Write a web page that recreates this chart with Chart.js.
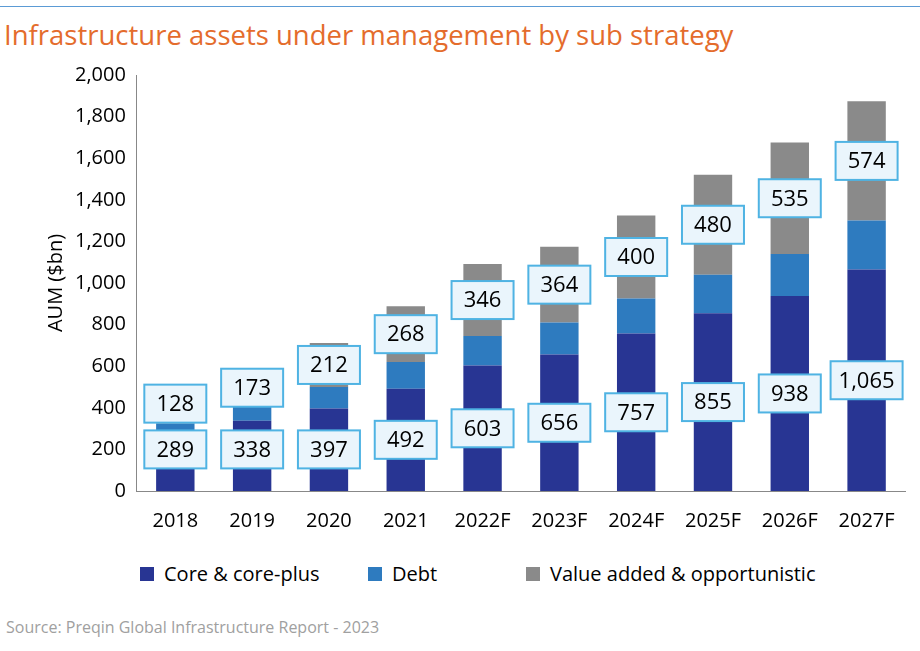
<!DOCTYPE html>
<html>
<head>
<meta charset="utf-8">
<script src="https://cdn.jsdelivr.net/npm/chart.js@4"></script>
<style>
  body { margin: 0; background: #fff; font-family: "Open Sans", sans-serif; }
  #wrap { position: relative; width: 920px; height: 651px; }
  #topline { position: absolute; left: 0; top: 6px; width: 920px; height: 1px; background: #5b9bd5; }
  #title { position: absolute; left: 4px; top: 16px; font-size: 27.5px; color: #e46c2c; }
  #source { position: absolute; left: 6px; top: 616px; font-size: 16px; color: #a0a0a0; }
  #box { position: absolute; left: 0; top: 60px; width: 915px; height: 483px; }
  #legend { position: absolute; top: 560px; left: 0; width: 920px; font-size: 20px; color: #000; }
  .item { position: absolute; top: 0; white-space: nowrap; }
  .sw { display: inline-block; width: 14px; height: 14px; margin-right: 10px; }
</style>
</head>
<body>
<div id="wrap">
  <div id="topline"></div>
  <div id="title">Infrastructure assets under management by sub strategy</div>
  <div id="box"><canvas id="chart"></canvas></div>
  <div id="legend"></div>
  <div id="source">Source: Preqin Global Infrastructure Report - 2023</div>
</div>
<script>
var years = ['2018', '2019', '2020', '2021', '2022F', '2023F', '2024F', '2025F', '2026F', '2027F'];
var coreValues = [289, 338, 397, 492, 603, 656, 757, 855, 938, 1065];
var debtValues = [36, 72, 103, 128, 142, 154, 168, 185, 202, 235];
var valueAddedValues = [128, 173, 212, 268, 346, 364, 400, 480, 535, 574];
var seriesNames = ['Core & core-plus', 'Debt', 'Value added & opportunistic'];
var seriesColors = ['#283593', '#2e7bbf', '#8a8a8a'];
var legendX = [140, 368, 526];

// html legend
var lg = document.getElementById('legend');
seriesNames.forEach(function (n, i) {
  var d = document.createElement('div');
  d.className = 'item';
  d.style.left = legendX[i] + 'px';
  d.innerHTML = '<span class="sw" style="background:' + seriesColors[i] + '"></span>' + n;
  lg.appendChild(d);
});

// draws the boxed labels for core and value-added segments
var boxLabels = {
  id: 'boxLabels',
  afterDatasetsDraw(chart) {
    const ctx = chart.ctx;
    const y = chart.scales.y;
    ctx.save();
    ctx.font = '22px "Open Sans", sans-serif';
    ctx.textAlign = 'center';
    ctx.textBaseline = 'middle';
    chart.getDatasetMeta(0).data.forEach(function (bar, i) {
      const coreY = Math.max(coreValues[i] / 2, 200);
      const vaMid = coreValues[i] + debtValues[i] + valueAddedValues[i] / 2;
      const vaY = Math.max(vaMid, coreY + 220);
      [[coreY, coreValues[i]], [vaY, valueAddedValues[i]]].forEach(function (p) {
        const txt = p[1].toLocaleString('en-US');
        const w = Math.max(62, ctx.measureText(txt).width + 16);
        const h = 38;
        const cy = y.getPixelForValue(p[0]);
        ctx.fillStyle = '#eaf5fc';
        ctx.strokeStyle = '#4fb3e3';
        ctx.lineWidth = 2;
        ctx.fillRect(bar.x - w / 2, cy - h / 2, w, h);
        ctx.strokeRect(bar.x - w / 2, cy - h / 2, w, h);
        ctx.fillStyle = '#000';
        ctx.fillText(txt, bar.x, cy + 1);
      });
    });
    ctx.restore();
  }
};

new Chart(document.getElementById('chart'), {
  type: 'bar',
  data: {
    labels: years,
    datasets: seriesNames.map(function (n, i) {
      return { label: n, data: [coreValues, debtValues, valueAddedValues][i], backgroundColor: seriesColors[i] };
    })
  },
  options: {
    responsive: true,
    maintainAspectRatio: false,
    animation: false,
    datasets: { bar: { categoryPercentage: 1, barPercentage: 0.5 } },
    layout: { padding: { left: 40, right: 10, top: 4 } },
    plugins: { tooltip: { enabled: false }, legend: { display: false } },
    scales: {
      x: {
        stacked: true,
        grid: { display: false },
        border: { color: '#888' },
        ticks: { color: '#000', padding: 10, font: { size: 20, family: '"Open Sans", sans-serif' } }
      },
      y: {
        stacked: true,
        min: 0, max: 2000,
        grid: { display: false },
        border: { color: '#888' },
        ticks: { stepSize: 200, color: '#000', font: { size: 20, family: '"Open Sans", sans-serif' },
                 callback: function (v) { return v.toLocaleString('en-US'); } },
        title: { display: true, text: 'AUM ($bn)', color: '#000', font: { size: 20, family: '"Open Sans", sans-serif' } }
      }
    }
  },
  plugins: [boxLabels]
});
</script>
</body>
</html>
